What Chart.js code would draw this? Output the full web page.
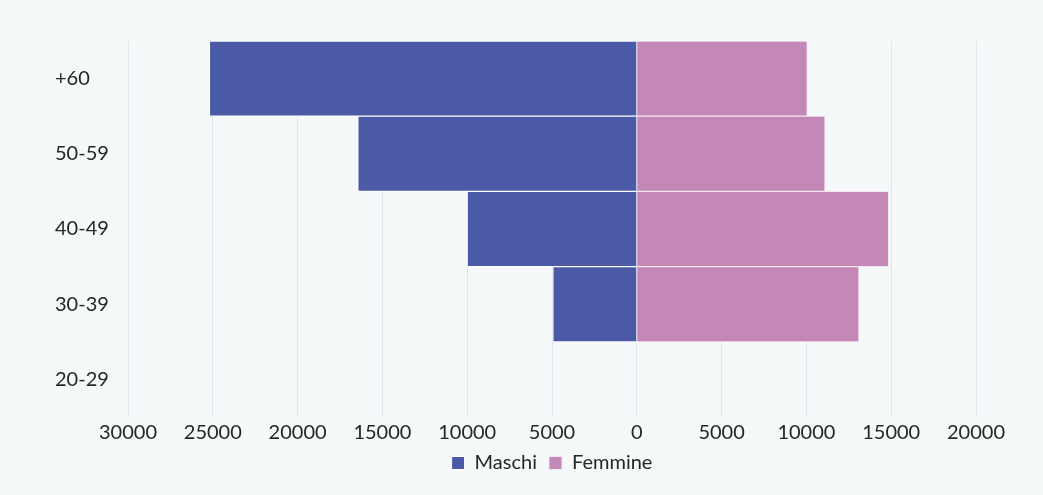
<!DOCTYPE html>
<html>
<head>
<meta charset="utf-8">
<script src="https://cdn.jsdelivr.net/npm/chart.js@4"></script>
<style>
  html, body { margin: 0; padding: 0; background: #f6f9fa; }
  #wrap { width: 1043px; height: 495px; }
</style>
</head>
<body>
<div id="wrap"><canvas id="piramide" width="1043" height="495"></canvas></div>
<script>
Chart.defaults.color = '#262626';
Chart.defaults.font.family = 'Lato, "Open Sans", sans-serif';
Chart.defaults.font.size = 20;

// fasce d'età, dall'alto in basso
const fasce = ['+60', '50-59', '40-49', '30-39', '20-29'];
const maschi = [25200, 16450, 10000, 4950, 0];
const femmine = [10050, 11100, 14850, 13100, 0];
const tickMin = -30000;
const tickMax = 20000;
const tickStep = 5000;

const data = {
    labels: fasce,
    datasets: [{
        label: 'Maschi',
        data: maschi.map(v => -v),
        backgroundColor: '#4a5aa6',
        borderColor: '#ffffff',
        borderWidth: 1,
        barPercentage: 1,
        categoryPercentage: 1
    }, {
        label: 'Femmine',
        data: femmine,
        backgroundColor: '#c387b8',
        borderColor: '#f4e6f0',
        borderWidth: 1,
        barPercentage: 1,
        categoryPercentage: 1
    }]
}

const options = {
    indexAxis: 'y',
    responsive: false,
    animation: false,
    layout: {
        padding: { top: 41, left: 55, right: 67, bottom: 12 }
    },
    plugins: {
        legend: {
            position: 'bottom',
            fullSize: false,
            labels: {
                boxWidth: 13,
                boxHeight: 13,
                padding: 12
            }
        },
        tooltip: { enabled: false }
    },
    scales: {
        x: {
            stacked: true,
            min: tickMin,
            max: tickMax,
            ticks: {
                stepSize: tickStep,
                padding: 4,
                callback: v => Math.abs(v)
            },
            grid: { color: '#e3e6e8', drawTicks: false },
            border: { display: false },
            afterFit: s => { s.height = 24 }
        },
        y: {
            stacked: true,
            ticks: { crossAlign: 'far', padding: 0 },
            grid: { display: false },
            border: { display: false },
            afterFit: s => { s.width = 73 }
        }
    }
}

new Chart('piramide', {
    type: 'bar',
    data,
    options
})
</script>
</body>
</html>
